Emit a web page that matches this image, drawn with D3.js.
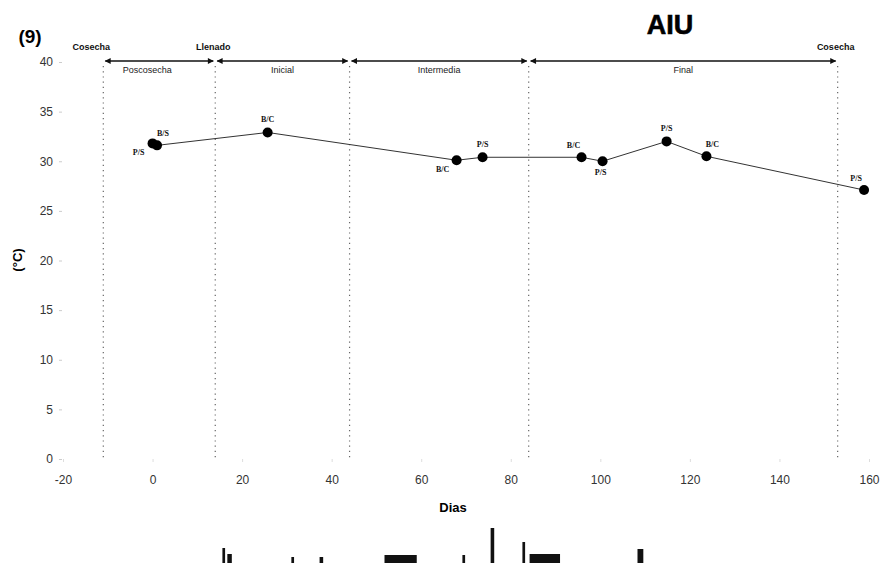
<!DOCTYPE html>
<meta charset="utf-8">
<script src="https://d3js.org/d3.v7.min.js"></script>
<style>
  body { margin: 0; background: #fff; }
  text { font-family: "Liberation Sans", Arial, sans-serif; }
</style>
<div id="chart"></div>
<script>

// temperature series (day, °C, label, label position)
var days   = [0, 1, 25.7, 67.9, 73.7, 95.8, 100.5, 114.8, 123.7, 158.9];
var temps  = [31.8, 31.6, 32.9, 30.1, 30.4, 30.4, 30.0, 32.0, 30.5, 27.1];
var labels = ["P/S", "B/S", "B/C", "B/C", "P/S", "B/C", "P/S", "P/S", "B/C", "P/S"];
var labelPos = ["bl", "ar", "a", "bl", "a", "al", "b", "a", "ar", "al"];

// phase boundaries (dotted lines) and the arrows between them
var bounds = [-11, 14, 44, 84, 153];
var phases = ["Poscosecha", "Inicial", "Intermedia", "Final"];
var events = [{day: -11, name: "Cosecha"}, {day: 14, name: "Llenado"}, {day: 153, name: "Cosecha"}];

var xTicks = [-20, 0, 20, 40, 60, 80, 100, 120, 140, 160];
var yTicks = [0, 5, 10, 15, 20, 25, 30, 35, 40];

// bits of the next panel cut off at the bottom of the page
var stubDays   = [15.6, 16.7, 31, 37.3, 51.8, 69.2, 75.5, 82.6, 84.2, 108.3];
var stubHeight = [15, 9, 6, 6, 8, 8, 35, 21, 9, 14];
var stubWidth  = [0.6, 1.0, 0.6, 0.8, 7.2, 0.6, 0.8, 0.6, 6.8, 1.3];

var width = 889, height = 563;

var svg = d3.select("#chart")
  .append("svg")
  .attr("width", width)
  .attr("height", height);

var x = d3.scaleLinear().domain([-20, 160]).range([63, 869]);
var y = d3.scaleLinear().domain([0, 40]).range([459, 62]);

svg.append("defs").selectAll("marker")
  .data(["start", "end"])
  .enter().append("marker")
  .attr("id", function(d) { return "arrow-" + d; })
  .attr("viewBox", "0 0 10 10")
  .attr("refX", function(d) { return d == "end" ? 9 : 1; })
  .attr("refY", 5)
  .attr("markerWidth", 7)
  .attr("markerHeight", 6)
  .attr("markerUnits", "userSpaceOnUse")
  .attr("orient", "auto")
  .append("path")
  .attr("d", function(d) { return d == "end" ? "M0,0L10,5L0,10z" : "M10,0L0,5L10,10z"; })
  .attr("fill", "#111");

// y axis (faint ticks, dark labels)
var yAxis = svg.append("g")
  .attr("transform", "translate(62,0)")
  .call(d3.axisLeft(y).tickValues(yTicks).tickFormat(String).tickSize(3).tickPadding(6));
yAxis.select(".domain").remove();
yAxis.selectAll("line").attr("stroke", "#ccc");
yAxis.selectAll("text").attr("font-size", 12).attr("fill", "#333");

// x axis
var xAxis = svg.append("g")
  .attr("transform", "translate(0,459)")
  .call(d3.axisBottom(x).tickValues(xTicks).tickFormat(String).tickSize(3).tickPadding(13));
xAxis.select(".domain").remove();
xAxis.selectAll("line").attr("stroke", "#ddd");
xAxis.selectAll("text").attr("font-size", 12).attr("fill", "#333");

// dotted boundaries
svg.selectAll(".bound")
  .data(bounds)
  .enter().append("line")
  .attr("class", "bound")
  .attr("x1", function(d) { return x(d); })
  .attr("x2", function(d) { return x(d); })
  .attr("y1", y(40) + 4)
  .attr("y2", y(0))
  .attr("stroke", "#666")
  .attr("stroke-width", 1.2)
  .attr("stroke-dasharray", "1.2,4");

// phase arrows
var pairs = d3.pairs(bounds);
svg.selectAll(".phase")
  .data(pairs)
  .enter().append("line")
  .attr("class", "phase")
  .attr("x1", function(d) { return x(d[0]) + 2; })
  .attr("x2", function(d) { return x(d[1]) - 2; })
  .attr("y1", y(40) - 1)
  .attr("y2", y(40) - 1)
  .attr("stroke", "#111")
  .attr("stroke-width", 1.3)
  .attr("marker-start", "url(#arrow-start)")
  .attr("marker-end", "url(#arrow-end)");

svg.selectAll(".phase-label")
  .data(pairs)
  .enter().append("text")
  .attr("class", "phase-label")
  .attr("x", function(d, i) { return i == 0 ? x(d[0]) + 44 : (x(d[0]) + x(d[1])) / 2; })
  .attr("y", y(40) + 11)
  .attr("text-anchor", "middle")
  .attr("font-size", 9)
  .attr("fill", "#222")
  .text(function(d, i) { return phases[i]; });

svg.selectAll(".event")
  .data(events)
  .enter().append("text")
  .attr("class", "event")
  .attr("x", function(d, i) { return i == 0 ? x(d.day) - 12 : x(d.day) - 2; })
  .attr("y", y(40) - 12)
  .attr("text-anchor", "middle")
  .attr("font-size", 9)
  .attr("font-weight", "bold")
  .attr("fill", "#111")
  .text(function(d) { return d.name; });

// series
var pts = days.map(function(d, i) { return {day: d, t: temps[i], lab: labels[i], pos: labelPos[i]}; });

svg.append("path")
  .datum(pts)
  .attr("fill", "none")
  .attr("stroke", "#333")
  .attr("stroke-width", 1)
  .attr("d", d3.line().x(function(d) { return x(d.day); }).y(function(d) { return y(d.t); }));

svg.selectAll(".pt")
  .data(pts)
  .enter().append("circle")
  .attr("class", "pt")
  .attr("cx", function(d) { return x(d.day); })
  .attr("cy", function(d) { return y(d.t); })
  .attr("r", 5)
  .attr("fill", "#000");

var off = {
  a:  [0, -10], b: [-2, 14], bl: [-14, 12], al: [-8, -9], ar: [6, -9]
};
svg.selectAll(".pt-label")
  .data(pts)
  .enter().append("text")
  .attr("class", "pt-label")
  .attr("x", function(d) { return x(d.day) + off[d.pos][0]; })
  .attr("y", function(d) { return y(d.t) + off[d.pos][1]; })
  .attr("text-anchor", "middle")
  .attr("font-size", 8)
  .attr("font-weight", "bold")
  .attr("fill", "#111")
  .style("font-family", "'Liberation Serif', serif")
  .text(function(d) { return d.lab; });

// titles
svg.append("text")
  .attr("x", 30).attr("y", 43)
  .attr("text-anchor", "middle")
  .attr("font-size", 19).attr("font-weight", "bold")
  .text("(9)");

svg.append("text")
  .attr("x", 670).attr("y", 34)
  .attr("text-anchor", "middle")
  .attr("font-size", 27).attr("font-weight", "900")
  .attr("stroke", "#000").attr("stroke-width", 0.6)
  .text("AIU");

svg.append("text")
  .attr("transform", "translate(22,260) rotate(-90)")
  .attr("text-anchor", "middle")
  .attr("font-size", 13).attr("font-weight", "bold")
  .text("(°C)");

svg.append("text")
  .attr("x", 453).attr("y", 512)
  .attr("text-anchor", "middle")
  .attr("font-size", 13).attr("font-weight", "bold")
  .text("Dias");

// cut-off panel at the bottom
var stubY = d3.scaleLinear().domain([0, 40]).range([563, 523]);
svg.selectAll(".stub")
  .data(stubDays)
  .enter().append("rect")
  .attr("class", "stub")
  .attr("x", function(d) { return x(d); })
  .attr("width", function(d, i) { return x(d + stubWidth[i]) - x(d); })
  .attr("y", function(d, i) { return stubY(stubHeight[i]); })
  .attr("height", function(d, i) { return stubY(0) - stubY(stubHeight[i]); })
  .attr("fill", "#111");

</script>
